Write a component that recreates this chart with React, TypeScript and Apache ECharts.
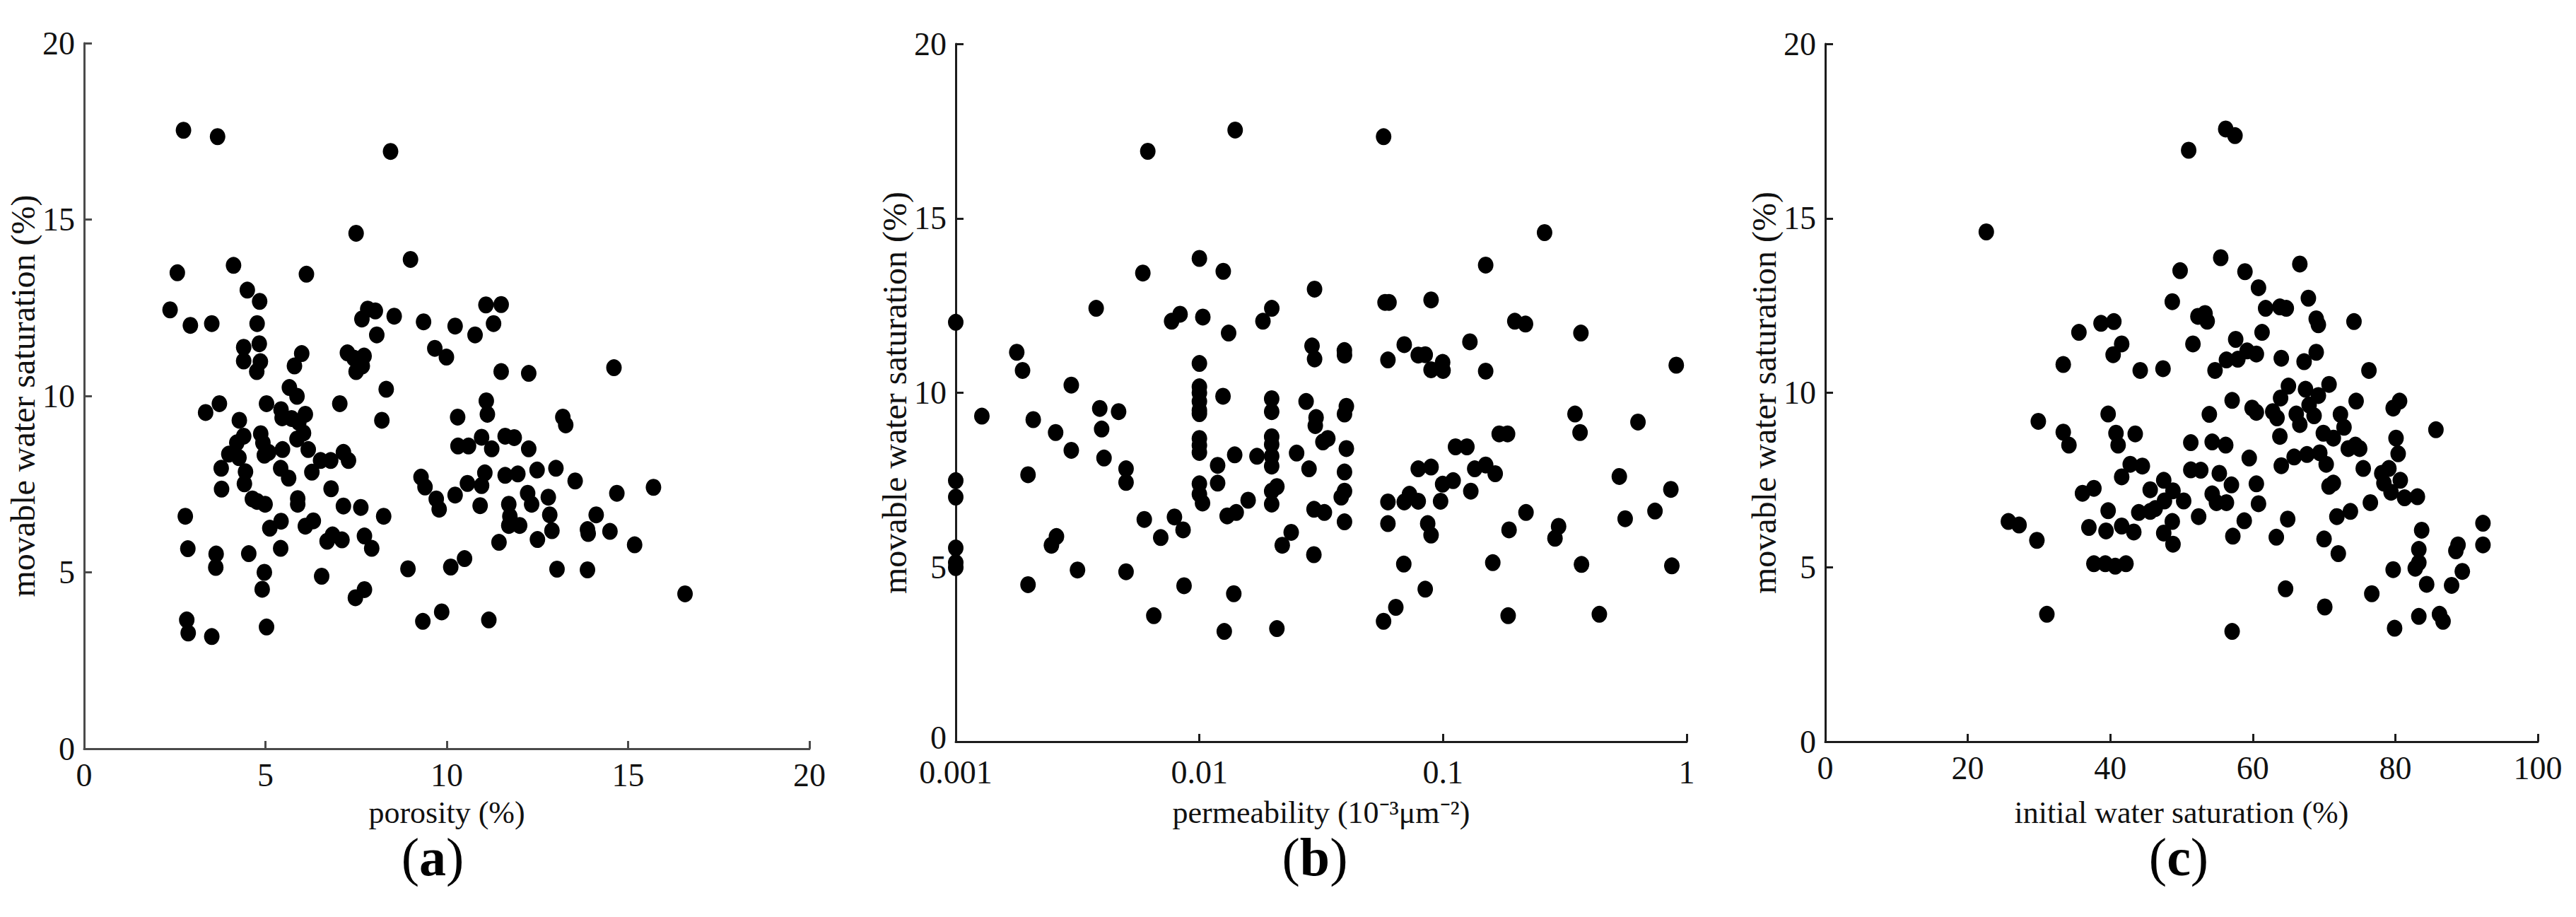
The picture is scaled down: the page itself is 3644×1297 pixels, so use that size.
import React, { useEffect, useRef } from "react";
import * as echarts from "echarts";

// ---------- DATA ----------
const yTickLabels = ["0", "5", "10", "15", "20"];
const porosityTickLabels = ["0", "5", "10", "15", "20"];
const permeabilityTickLabels = ["0.001", "0.01", "0.1", "1"];
const saturationTickLabels = ["0", "20", "40", "60", "80", "100"];

const panelLetters = ["a", "b", "c"];
const xTitles = ["porosity (%)", "permeability (10\u207B\u00B3\u03BCm\u207B\u00B2)", "initial water saturation (%)"];
const yTitle = "movable water saturation (%)";

// (a) porosity (%) vs movable water saturation (%)
const porosityPoints: [number, number][] = [
  [2.74,17.53],[3.68,17.35],[8.45,16.93],[7.50,14.61],[2.57,13.49],[4.12,13.70],[6.13,13.45],[9.00,13.87],[4.50,13.00],[4.84,12.68],
  [2.37,12.44],[2.93,12.00],[3.52,12.05],[4.77,12.05],[7.66,12.18],[7.82,12.46],[8.03,12.41],[8.55,12.26],[9.36,12.10],[10.23,11.98],
  [10.78,11.73],[11.08,12.58],[11.50,12.59],[11.29,12.05],[8.07,11.73],[4.40,11.38],[4.83,11.48],[4.40,10.99],[4.86,10.97],[4.76,10.69],
  [6.00,11.20],[5.80,10.85],[7.26,11.22],[7.44,11.07],[7.72,11.13],[7.67,10.85],[7.50,10.69],[9.67,11.35],[9.99,11.10],[8.33,10.19],
  [11.50,10.69],[12.26,10.64],[14.61,10.80],[3.35,9.53],[3.73,9.78],[5.03,9.78],[5.66,10.24],[5.87,9.99],[5.43,9.61],[5.46,9.38],
  [5.72,9.36],[5.92,9.25],[6.10,9.48],[6.05,8.95],[5.87,8.78],[7.05,9.78],[8.21,9.31],[4.28,9.31],[4.40,8.86],[4.21,8.67],
  [3.99,8.35],[4.27,8.25],[4.87,8.93],[4.93,8.67],[4.97,8.32],[5.09,8.40],[5.47,8.48],[6.18,8.48],[3.78,7.95],[4.45,7.85],
  [4.42,7.51],[3.79,7.36],[5.42,7.95],[5.64,7.67],[6.28,7.84],[6.52,8.17],[6.80,8.17],[7.15,8.40],[7.29,8.17],[6.81,7.37],
  [7.15,6.88],[7.63,6.84],[5.89,7.09],[5.89,6.93],[4.64,7.08],[4.77,7.01],[4.99,6.93],[2.79,6.59],[5.43,6.45],[5.12,6.25],
  [6.10,6.31],[6.32,6.46],[6.70,5.88],[6.85,6.06],[7.11,5.92],[8.26,6.59],[7.73,6.03],[7.93,5.68],[2.86,5.67],[5.42,5.68],
  [3.64,5.52],[3.63,5.14],[4.54,5.53],[4.97,5.00],[4.91,4.52],[6.55,4.89],[8.93,5.10],[7.48,4.28],[7.73,4.51],[2.83,3.65],
  [2.87,3.28],[3.52,3.18],[5.03,3.45],[9.34,3.61],[9.86,3.88],[11.16,3.65],[10.11,5.15],[10.49,5.39],[13.04,5.09],[13.88,5.07],
  [16.57,4.39],[11.44,5.85],[12.50,5.93],[15.18,5.78],[9.29,7.70],[9.40,7.42],[9.71,7.08],[9.79,6.79],[10.23,7.19],[10.57,7.52],
  [10.31,8.58],[10.60,8.58],[10.30,9.40],[10.96,8.83],[11.09,9.86],[11.12,9.48],[11.24,8.50],[11.05,7.82],[10.96,7.46],[10.92,6.89],
  [11.61,8.86],[11.86,8.82],[11.61,7.75],[11.96,7.79],[11.71,6.93],[11.74,6.59],[11.71,6.33],[12.01,6.33],[12.26,8.50],[12.23,7.24],
  [12.34,6.93],[12.49,7.90],[12.80,7.13],[12.84,6.63],[12.90,6.18],[13.01,7.95],[13.20,9.40],[13.28,9.18],[13.54,7.59],[13.88,6.21],
  [13.90,6.10],[14.12,6.63],[14.50,6.16],[14.69,7.24],[15.70,7.41]
];

// (b) permeability (10^-3 μm^-2) vs movable water saturation (%)
const permeabilityPoints: [number, number][] = [
  [0.001,12.02],[0.001,7.48],[0.001,7.01],[0.001,5.55],[0.001,5.13],[0.001,4.99],[0.00128,9.33],[0.00178,11.16],[0.00188,10.64],[0.00208,9.23],
  [0.00198,7.65],[0.00198,4.50],[0.00257,8.86],[0.00298,10.22],[0.00298,8.35],[0.00247,5.63],[0.00259,5.88],[0.00316,4.92],[0.00377,12.42],[0.0039,9.55],
  [0.00397,8.96],[0.00406,8.13],[0.00466,9.46],[0.005,7.82],[0.005,7.43],[0.005,4.87],[0.00586,13.43],[0.00594,6.37],[0.00614,16.92],[0.0065,3.61],
  [0.00694,5.85],[0.00769,12.05],[0.00833,12.25],[0.0079,6.44],[0.00857,6.07],[0.00865,4.47],[0.01,13.85],[0.01033,12.17],[0.01,10.84],[0.01,10.17],
  [0.01,10.0],[0.01,9.75],[0.01,9.50],[0.01,9.40],[0.01,8.69],[0.01,8.49],[0.01,8.29],[0.01,7.39],[0.01,7.09],[0.0103,6.84],
  [0.01253,13.48],[0.0125,9.90],[0.01318,11.71],[0.01402,17.53],[0.01188,7.92],[0.01188,7.41],[0.01396,8.22],[0.013,6.47],[0.01416,6.57],[0.01384,4.24],
  [0.01265,3.16],[0.01585,6.92],[0.01723,8.18],[0.01823,12.05],[0.01982,12.42],[0.0198,9.83],[0.0198,9.46],[0.0198,8.74],[0.0198,8.52],[0.0198,8.18],
  [0.0198,7.90],[0.0198,7.18],[0.0198,6.81],[0.0208,7.31],[0.0208,3.24],[0.02188,5.63],[0.02381,6.0],[0.02506,8.27],[0.02741,9.75],[0.02818,7.82],
  [0.02969,12.97],[0.02899,11.34],[0.0297,10.97],[0.03012,9.29],[0.0299,9.06],[0.03213,8.59],[0.03366,8.69],[0.02954,6.66],[0.03258,6.57],[0.0295,5.36],
  [0.03936,11.21],[0.0394,11.08],[0.0401,9.61],[0.0394,9.39],[0.0401,8.40],[0.0394,7.73],[0.0394,7.18],[0.0382,7.01],[0.0394,6.30],[0.05702,17.34],
  [0.0578,12.59],[0.06,12.59],[0.0594,10.94],[0.0594,6.87],[0.0594,6.25],[0.057,3.45],[0.064,3.85],[0.0693,11.38],[0.069,5.09],[0.0693,6.87],
  [0.0728,7.09],[0.0791,6.89],[0.0791,7.82],[0.0791,11.08],[0.0845,11.09],[0.0893,12.66],[0.0893,10.66],[0.0893,7.87],[0.0865,6.25],[0.0893,5.92],
  [0.0845,4.37],[0.0996,10.87],[0.1,10.64],[0.0996,7.38],[0.0977,6.89],[0.11,7.48],[0.1125,8.45],[0.1253,8.45],[0.1289,11.46],[0.13,7.18],
  [0.1349,7.82],[0.1496,7.93],[0.1496,13.66],[0.1496,10.62],[0.1637,7.68],[0.16,5.13],[0.17,8.82],[0.184,8.82],[0.1866,6.07],[0.185,3.61],
  [0.197,12.05],[0.218,11.97],[0.219,6.57],[0.261,14.59],[0.288,5.83],[0.298,6.17],[0.348,9.39],[0.368,11.71],[0.365,8.86],[0.37,5.08],
  [0.438,3.65],[0.529,7.60],[0.559,6.39],[0.631,9.16],[0.741,6.61],[0.861,7.23],[0.869,5.04],[0.906,10.79]
];

// (c) initial water saturation (%) vs movable water saturation (%)
const saturationPoints: [number, number][] = [
  [22.6,14.61],[25.7,6.31],[27.2,6.21],[29.7,5.77],[29.9,9.18],[31.1,3.65],[33.4,10.81],[33.4,8.87],[34.2,8.50],[35.6,11.73],
  [36.1,7.12],[37.0,6.14],[37.7,5.10],[37.7,7.26],[38.7,11.99],[39.3,5.10],[39.7,9.39],[39.7,6.62],[39.4,6.04],[40.5,12.04],
  [40.4,11.09],[40.8,8.84],[41.1,8.50],[40.7,5.03],[41.6,11.40],[41.6,7.59],[41.6,6.18],[42.2,5.10],[42.8,7.95],[43.3,6.01],
  [43.5,8.82],[44.2,10.64],[44.5,7.90],[44.0,6.57],[45.6,6.60],[45.6,7.22],[46.3,6.68],[47.4,10.69],[47.5,7.49],[47.6,6.90],
  [47.5,5.98],[48.7,12.61],[48.7,6.31],[48.8,5.66],[48.8,7.19],[49.8,13.50],[50.3,6.90],[51.0,16.95],[51.3,8.57],[51.3,7.79],
  [51.6,11.40],[52.4,6.45],[52.3,12.19],[52.7,7.78],[53.3,12.27],[53.6,12.05],[53.9,9.38],[54.3,8.59],[54.3,7.10],[54.7,10.64],
  [54.9,6.85],[55.3,7.69],[55.5,13.87],[56.2,17.56],[57.5,17.37],[56.3,10.94],[56.2,8.50],[56.3,6.85],[57.0,7.36],[57.1,9.78],
  [57.2,5.89],[57.1,3.16],[57.6,11.53],[57.9,10.96],[58.9,13.47],[59.2,11.20],[58.8,6.33],[59.5,8.13],[59.9,9.56],[60.5,11.11],
  [60.5,9.44],[60.8,13.01],[60.5,7.39],[60.8,6.82],[61.3,11.73],[61.8,12.42],[62.8,9.46],[63.4,9.28],[63.3,5.86],[63.8,12.46],
  [64.7,12.42],[63.9,9.85],[63.8,8.75],[64.0,7.91],[64.0,10.99],[65.0,10.19],[64.9,6.38],[64.6,4.38],[65.8,8.16],[66.1,9.39],
  [66.6,9.09],[66.6,13.69],[67.2,10.89],[67.4,10.10],[67.8,12.71],[67.9,9.65],[67.6,8.23],[68.6,9.34],[68.9,12.12],[69.2,11.95],
  [68.9,11.16],[69.2,9.92],[69.4,8.28],[69.9,8.84],[70.0,5.81],[70.1,3.86],[70.3,7.95],[70.7,10.24],[70.7,7.32],[71.3,7.41],
  [71.3,8.70],[71.8,6.45],[72.0,5.39],[72.3,9.38],[72.8,9.01],[73.4,8.40],[73.7,6.60],[74.2,12.04],[74.5,9.76],[74.4,8.50],
  [75.0,8.40],[75.5,7.83],[76.3,10.64],[76.5,6.85],[76.7,4.24],[78.1,7.69],[78.4,7.41],[79.1,7.83],[79.4,7.15],[79.7,9.56],
  [80.1,8.70],[80.6,9.76],[80.4,8.25],[80.7,7.49],[81.3,6.99],[79.7,4.93],[79.9,3.25],[82.8,4.97],[83.1,7.02],[83.3,5.51],
  [83.3,5.13],[83.7,6.06],[83.3,3.59],[84.4,4.51],[85.7,8.94],[86.2,3.65],[86.7,3.45],[87.9,4.48],[88.5,5.47],[88.8,5.64],
  [89.4,4.88],[92.3,6.26],[92.3,5.64]
];

// ---------- CHART ----------
const FONT = "Liberation Serif, serif";

export default function App() {
  const ref = useRef<HTMLDivElement>(null);

  useEffect(() => {
    if (!ref.current) return;
    const chart = echarts.init(ref.current, undefined, { renderer: "svg" });

    const grids = [
      { left: 119, top: 61, width: 1026, height: 998 },
      { left: 1352, top: 62, width: 1034, height: 987 },
      { left: 2582, top: 62, width: 1008, height: 987 },
    ];
    const axisColors = ["#4a4a4a", "#1c1c1c", "#1c1c1c"];
    const xNameGaps = [68, 78, 78];
    const xLabelMargins = [20, 26, 20];
    const labelX = [612, 1860, 3082];

    const common = (i: number) => ({
      gridIndex: i,
      axisLine: { show: true, onZero: false, lineStyle: { color: axisColors[i], width: 3 } },
      axisTick: { show: true, inside: true, length: 11, lineStyle: { color: axisColors[i], width: 3 } },
      minorTick: { show: false },
      splitLine: { show: false },
      nameTextStyle: { color: "#111", fontSize: 44, fontFamily: FONT },
    });

    const labelStyle = { color: "#111", fontSize: 46, fontFamily: FONT, lineHeight: 34 };

    const xAxis: any[] = [
      {
        ...common(0),
        type: "value",
        min: 0,
        max: 20,
        interval: 5,
        axisLabel: { ...labelStyle, margin: xLabelMargins[0], formatter: (v: number) => porosityTickLabels[Math.round(v / 5)] ?? "" },
        name: xTitles[0],
        nameLocation: "middle",
        nameGap: xNameGaps[0],
      },
      {
        ...common(1),
        type: "log",
        logBase: 10,
        min: 0.001,
        max: 1,
        axisLabel: {
          ...labelStyle,
          margin: xLabelMargins[1],
          formatter: (v: number) => permeabilityTickLabels[Math.round(Math.log10(v)) + 3] ?? "",
        },
        name: xTitles[1],
        nameLocation: "middle",
        nameGap: xNameGaps[1],
      },
      {
        ...common(2),
        type: "value",
        min: 0,
        max: 100,
        interval: 20,
        axisLabel: { ...labelStyle, margin: xLabelMargins[2], formatter: (v: number) => saturationTickLabels[Math.round(v / 20)] ?? "" },
        name: xTitles[2],
        nameLocation: "middle",
        nameGap: xNameGaps[2],
      },
    ];

    const yAxis: any[] = [0, 1, 2].map((i) => ({
      ...common(i),
      type: "value",
      min: 0,
      max: 20,
      interval: 5,
      axisLabel: {
        ...labelStyle,
        margin: 13,
        formatter: (v: number) => {
          const t = yTickLabels[Math.round(v / 5)] ?? "";
          return i === 1 && v === 0 ? "{z|" + t + "}" : t;
        },
        rich: { z: { fontSize: 46, fontFamily: FONT, color: "#111", lineHeight: 30, padding: [0, 0, 12, 0] } },
      },
      name: yTitle,
      nameLocation: "middle",
      nameGap: 56,
      nameTextStyle: { color: "#111", fontSize: 48, fontFamily: FONT },
    }));

    const datasets = [porosityPoints, permeabilityPoints, saturationPoints];

    chart.setOption({
      animation: false,
      backgroundColor: "#ffffff",
      grid: grids.map((g) => ({ ...g, containLabel: false, outerBoundsMode: "none" })),
      xAxis,
      yAxis,
      series: datasets.map((d, i) => ({
        type: "scatter",
        xAxisIndex: i,
        yAxisIndex: i,
        data: d,
        symbol: "circle",
        symbolSize: [22, 24],
        itemStyle: { color: "#000000", opacity: 1 },
        clip: false,
        silent: true,
      })),
      graphic: panelLetters.map((letter, i) => ({
        type: "text",
        x: labelX[i],
        y: 1212,
        style: {
          text: "{p|(}{b|" + letter + "}{p|)}",
          align: "center",
          verticalAlign: "middle",
          rich: {
            p: { fontSize: 76, fontFamily: FONT, fill: "#000" },
            b: { fontSize: 76, fontFamily: FONT, fontWeight: "bold", fill: "#000" },
          },
        },
      })),
    });

    return () => chart.dispose();
  }, []);

  return (
    <div
      ref={ref}
      style={{ position: "absolute", left: 0, top: 0, width: 3644, height: 1297, background: "#fff" }}
    />
  );
}
